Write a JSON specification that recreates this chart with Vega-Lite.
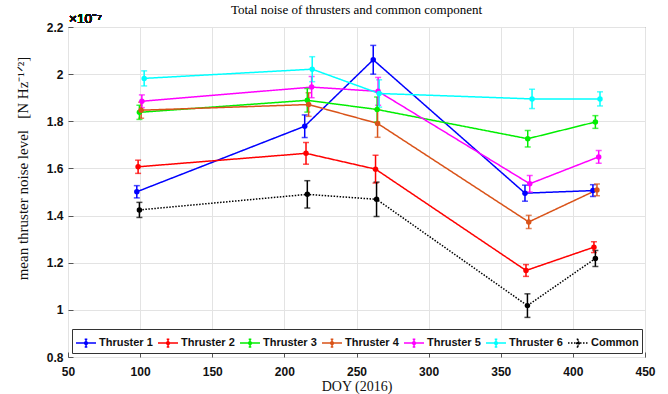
{
  "$schema": "https://vega.github.io/schema/vega-lite/v6.json",
  "autosize": {"type": "none"},
  "width": 577,
  "height": 330,
  "padding": {"left": 68, "top": 27, "right": 23, "bottom": 37},
  "background": "white",
  "title": {"text": "Total noise of thrusters and common component", "font": "Liberation Serif", "fontSize": 13, "fontWeight": "normal", "color": "#000", "anchor": "middle", "offset": -5},
  "config": {
    "view": {"stroke": "#666", "strokeWidth": 1},
    "axis": {"gridColor": "#e3e3e3", "gridWidth": 1, "domain": false, "tickColor": "#555", "tickSize": -5, "labelFont": "Liberation Sans", "labelFontWeight": "bold", "labelFontSize": 12, "labelColor": "#111", "titleFont": "Liberation Serif", "titleFontWeight": "normal", "titleFontSize": 14, "titleColor": "#111"},
    "legend": {
      "orient": "bottom-left", "offset": 4, "direction": "horizontal", "columns": 7,
      "padding": 3, "strokeColor": "#333", "fillColor": "white",
      "symbolType": "M-1,0H1M0,-0.38V0.38M-0.13,-0.38H0.13M-0.13,0.38H0.13M0.14,0A0.14,0.14,0,1,1,-0.14,0A0.14,0.14,0,1,1,0.14,0Z",
      "symbolSize": 400, "symbolStrokeWidth": 1.5,
      "labelFont": "Liberation Sans", "labelFontWeight": "bold", "labelFontSize": 11, "labelColor": "#111", "labelOffset": 2, "columnPadding": 2, "rowPadding": 0
    }
  },
  "data": {"values": [
    {"series": "Thruster 1", "doy": 97.7, "noise": 1.501, "err": 0.026},
    {"series": "Thruster 1", "doy": 214.1, "noise": 1.779, "err": 0.048},
    {"series": "Thruster 1", "doy": 261.6, "noise": 2.061, "err": 0.061},
    {"series": "Thruster 1", "doy": 366.8, "noise": 1.495, "err": 0.034},
    {"series": "Thruster 1", "doy": 413.9, "noise": 1.506, "err": 0.025},
    {"series": "Thruster 2", "doy": 98.6, "noise": 1.607, "err": 0.028},
    {"series": "Thruster 2", "doy": 215.0, "noise": 1.664, "err": 0.046},
    {"series": "Thruster 2", "doy": 263.2, "noise": 1.597, "err": 0.059},
    {"series": "Thruster 2", "doy": 367.5, "noise": 1.167, "err": 0.025},
    {"series": "Thruster 2", "doy": 414.6, "noise": 1.266, "err": 0.023},
    {"series": "Thruster 3", "doy": 99.5, "noise": 1.838, "err": 0.03},
    {"series": "Thruster 3", "doy": 215.9, "noise": 1.889, "err": 0.05},
    {"series": "Thruster 3", "doy": 264.3, "noise": 1.85, "err": 0.053},
    {"series": "Thruster 3", "doy": 368.7, "noise": 1.726, "err": 0.035},
    {"series": "Thruster 3", "doy": 415.6, "noise": 1.797, "err": 0.027},
    {"series": "Thruster 4", "doy": 100.7, "noise": 1.847, "err": 0.034},
    {"series": "Thruster 4", "doy": 216.8, "noise": 1.871, "err": 0.05},
    {"series": "Thruster 4", "doy": 264.6, "noise": 1.791, "err": 0.059},
    {"series": "Thruster 4", "doy": 369.4, "noise": 1.373, "err": 0.028},
    {"series": "Thruster 4", "doy": 416.7, "noise": 1.509, "err": 0.025},
    {"series": "Thruster 5", "doy": 101.2, "noise": 1.885, "err": 0.027},
    {"series": "Thruster 5", "doy": 218.9, "noise": 1.945, "err": 0.045},
    {"series": "Thruster 5", "doy": 265.0, "noise": 1.927, "err": 0.059},
    {"series": "Thruster 5", "doy": 370.1, "noise": 1.535, "err": 0.035},
    {"series": "Thruster 5", "doy": 417.9, "noise": 1.649, "err": 0.027},
    {"series": "Thruster 6", "doy": 102.8, "noise": 1.982, "err": 0.032},
    {"series": "Thruster 6", "doy": 219.3, "noise": 2.021, "err": 0.053},
    {"series": "Thruster 6", "doy": 265.7, "noise": 1.918, "err": 0.058},
    {"series": "Thruster 6", "doy": 371.7, "noise": 1.895, "err": 0.041},
    {"series": "Thruster 6", "doy": 418.8, "noise": 1.895, "err": 0.03},
    {"series": "Common", "doy": 99.5, "noise": 1.424, "err": 0.032},
    {"series": "Common", "doy": 215.9, "noise": 1.49, "err": 0.058},
    {"series": "Common", "doy": 263.9, "noise": 1.469, "err": 0.073},
    {"series": "Common", "doy": 368.5, "noise": 1.018, "err": 0.05},
    {"series": "Common", "doy": 415.6, "noise": 1.218, "err": 0.034}
  ]},
  "encoding": {
    "x": {"field": "doy", "type": "quantitative", "scale": {"domain": [50, 450], "nice": false, "zero": false},
          "axis": {"values": [50,100,150,200,250,300,350,400,450], "title": "DOY (2016)", "labelPadding": 14, "titleY": 29, "titleBaseline": "middle", "labelFlush": false}},
    "y": {"field": "noise", "type": "quantitative", "scale": {"domain": [0.8, 2.2], "nice": false, "zero": false},
          "title": "mean thruster noise level\u00a0\u00a0\u00a0[N Hz⁻¹ᐟ²]",
          "axis": {"values": [0.8,1,1.2,1.4,1.6,1.8,2,2.2], "format": "~g", "labelPadding": 10, "titleX": -46, "titleY": 141, "titleFontSize": 15, "titleBaseline": "middle", "titleAngle": -90}},
    "color": {"field": "series", "type": "nominal",
              "scale": {"domain": ["Thruster 1","Thruster 2","Thruster 3","Thruster 4","Thruster 5","Thruster 6","Common"],
                        "range": ["#0000ff","#ff0000","#00ee00","#d95319","#ff00ff","#00ffff","#000000"]},
              "legend": {"title": null, "encode": {"symbols": {"update": {"fill": {"scale": "color", "field": "value"}}}}}}
  },
  "layer": [
    {
      "mark": {"type": "line", "strokeWidth": 1.5},
      "encoding": {
        "strokeDash": {"field": "series", "type": "nominal",
                       "scale": {"domain": ["Thruster 1","Thruster 2","Thruster 3","Thruster 4","Thruster 5","Thruster 6","Common"],
                                 "range": [[1,0],[1,0],[1,0],[1,0],[1,0],[1,0],[1.5,1.5]]},
                       "legend": null}
      }
    },
    {
      "mark": {"type": "errorbar", "thickness": 1.5, "ticks": {"size": 6, "thickness": 1.5}},
      "encoding": {
        "yError": {"field": "err"}
      }
    },
    {
      "mark": {"type": "point", "filled": true, "opacity": 1, "size": 30}
    },
    {
      "mark": {"type": "text", "align": "left", "baseline": "bottom", "dy": -1, "dx": 1, "font": "Liberation Sans", "fontSize": 13.5, "color": "#111"},
      "encoding": {
        "x": {"datum": 50},
        "y": {"datum": 2.2},
        "text": {"value": "×10⁻⁷"},
        "color": {"value": "#111"}
      }
    }
  ]
}
